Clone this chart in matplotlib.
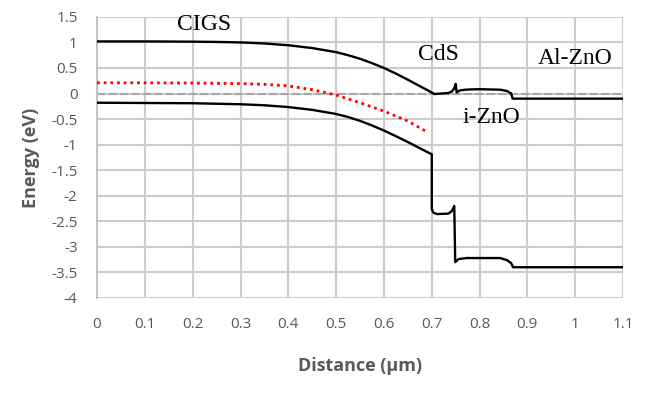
import matplotlib
matplotlib.use("Agg")
import matplotlib.pyplot as plt

# band diagram values (distance in um, energy in eV)
ec_x = [0, 0.1, 0.2, 0.25, 0.3, 0.35, 0.4, 0.45, 0.5, 0.525, 0.55, 0.575, 0.6, 0.625, 0.65, 0.675, 0.7,
        0.705, 0.72, 0.735, 0.742, 0.747, 0.75, 0.752, 0.758, 0.77, 0.78, 0.8, 0.843, 0.857, 0.866, 0.869, 0.9, 1.0, 1.1]
ec_y = [1.02, 1.02, 1.015, 1.01, 1.0, 0.98, 0.945, 0.89, 0.81, 0.75, 0.68, 0.595, 0.5, 0.39, 0.27, 0.145, 0.02,
        -0.01, 0.0, 0.01, 0.04, 0.1, 0.19, 0.02, 0.06, 0.075, 0.08, 0.085, 0.075, 0.05, 0.0, -0.1, -0.1, -0.1, -0.1]

ev_x = [0, 0.1, 0.2, 0.25, 0.3, 0.35, 0.4, 0.45, 0.5, 0.525, 0.55, 0.575, 0.6, 0.625, 0.65, 0.675, 0.7,
        0.7, 0.703, 0.711, 0.735, 0.742, 0.747, 0.749, 0.756, 0.773, 0.843, 0.857, 0.866, 0.87, 0.9, 1.0, 1.1]
ev_y = [-0.18, -0.185, -0.19, -0.2, -0.21, -0.23, -0.265, -0.32, -0.4, -0.46, -0.535, -0.625, -0.725, -0.835, -0.95, -1.07, -1.19,
        -2.26, -2.33, -2.36, -2.35, -2.3, -2.2, -3.3, -3.24, -3.22, -3.22, -3.26, -3.32, -3.4, -3.4, -3.4, -3.4]

ef_x = [0, 0.1, 0.2, 0.3, 0.35, 0.4, 0.45, 0.5, 0.55, 0.6, 0.65, 0.69]
ef_y = [0.21, 0.21, 0.205, 0.195, 0.18, 0.15, 0.075, -0.03, -0.18, -0.345, -0.54, -0.75]

ref_x = [0, 1.1]
ref_y = [0, 0]

layers = ["CIGS", "CdS", "i-ZnO", "Al-ZnO"]
layer_pos = [(0.223, 1.35), (0.713, 0.77), (0.825, -0.47), (0.999, 0.69)]

x_ticks = [0, 0.1, 0.2, 0.3, 0.4, 0.5, 0.6, 0.7, 0.8, 0.9, 1, 1.1]
y_ticks = [1.5, 1, 0.5, 0, -0.5, -1, -1.5, -2, -2.5, -3, -3.5, -4]

fig = plt.figure(figsize=(6.47, 3.93), dpi=100, facecolor="white")
ax = fig.add_axes([0.15, 0.242, 0.813, 0.715])

# light grid, drawn as plain line collections at the tick values
ax.vlines(x_ticks, -4, 1.5, colors="#cccccc", linewidths=1.5, zorder=1)
ax.hlines(y_ticks, 0, 1.1, colors="#cccccc", linewidths=1.5, zorder=1)

ax.plot(ref_x, ref_y, color="#a6a6a6", lw=1.5, dashes=(4, 1.5), zorder=2)
ax.plot(ef_x, ef_y, color="red", lw=2.0, linestyle=(0, (1, 1.4)), zorder=3)
ax.plot(ec_x, ec_y, color="black", lw=1.7, zorder=4)
ax.plot(ev_x, ev_y, color="black", lw=1.7, zorder=4)

for name, (px, py) in zip(layers, layer_pos):
    ax.text(px, py, name, fontsize=17, family="Liberation Serif", ha="center", va="center")

ax.set_xlim(0, 1.1)
ax.set_ylim(-4, 1.5)
ax.set_xticks(x_ticks)
ax.set_xticklabels([f"{t:g}" for t in x_ticks])
ax.set_yticks(y_ticks)
ax.set_yticklabels([f"{t:g}" for t in y_ticks])
for s in ["top", "right", "bottom"]:
    ax.spines[s].set_visible(False)
ax.spines["left"].set_color("#bfbfbf")
ax.spines["left"].set_linewidth(1.3)
ax.tick_params(length=0, labelsize=11, labelcolor="#595959", pad=14)
for lab in ax.get_xticklabels() + ax.get_yticklabels():
    lab.set_family("Open Sans")

ax.set_xlabel("Distance (µm)", fontsize=13, fontweight="bold", color="#595959", family="Open Sans", labelpad=18)
ax.set_ylabel("Energy (eV)", fontsize=13, fontweight="bold", color="#595959", family="Open Sans", labelpad=8)

fig.savefig("out.png", dpi=100)
